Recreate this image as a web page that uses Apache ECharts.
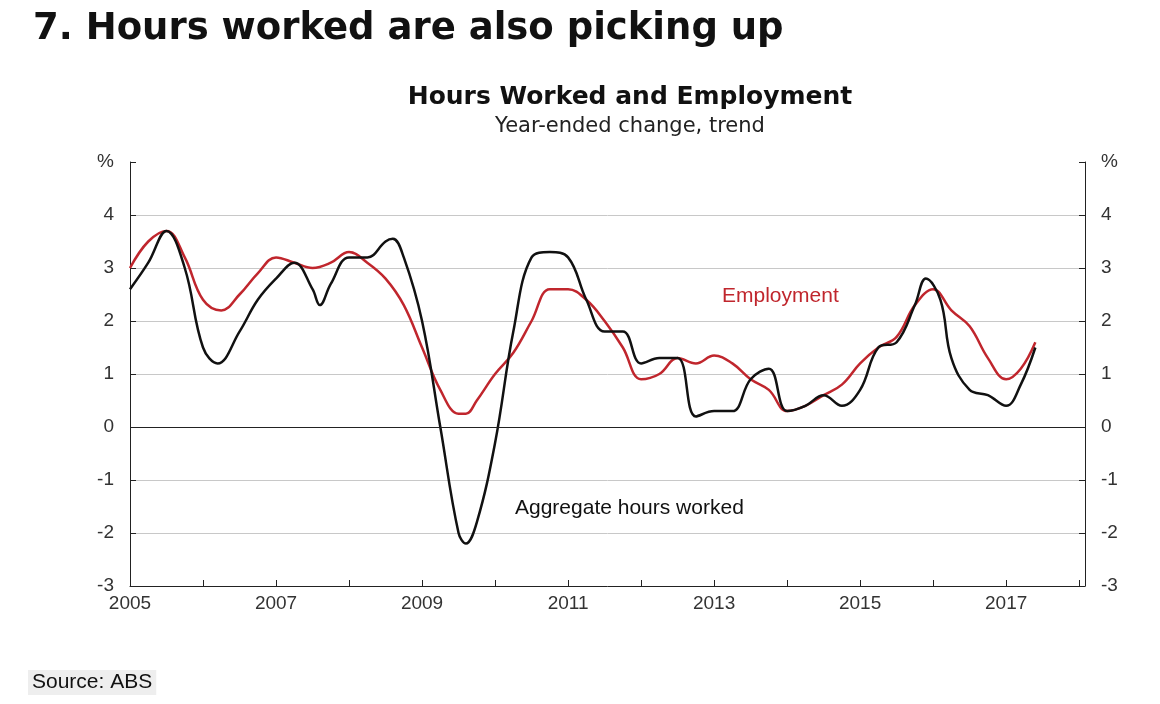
<!DOCTYPE html>
<html>
<head>
<meta charset="utf-8">
<script src="https://cdn.jsdelivr.net/npm/echarts@6/dist/echarts.min.js"></script>
<style>html,body{margin:0;background:#fff}#dataView{width:1160px;height:704px}</style>
</head>
<body>
<div id="dataView"></div>
<script>
// years and year-ended change (%)
var hoursYears = [2005.0,2005.25,2005.5,2005.75,2006.0,2006.2,2006.5,2006.75,2007.0,2007.25,2007.5,2007.6,2007.75,2008.0,2008.25,2008.5,2008.6,2008.75,2009.0,2009.25,2009.5,2009.6,2009.75,2010.0,2010.25,2010.5,2010.75,2011.0,2011.25,2011.5,2011.75,2012.0,2012.25,2012.5,2012.75,2013.0,2013.25,2013.5,2013.75,2014.0,2014.25,2014.5,2014.75,2015.0,2015.25,2015.5,2015.75,2015.9,2016.1,2016.25,2016.5,2016.75,2017.0,2017.2,2017.4];
var hoursValues = [2.6,3.1,3.7,3.0,1.5,1.2,1.8,2.4,2.8,3.1,2.6,2.3,2.7,3.2,3.2,3.5,3.55,3.2,2.0,0.0,-2.0,-2.2,-1.8,-0.3,1.8,3.2,3.3,3.2,2.4,1.8,1.8,1.2,1.3,1.3,0.2,0.3,0.3,0.9,1.1,0.3,0.4,0.6,0.4,0.7,1.5,1.6,2.3,2.8,2.4,1.3,0.7,0.6,0.4,0.8,1.5];
var empYears = [2005.0,2005.25,2005.5,2005.75,2006.0,2006.25,2006.5,2006.75,2007.0,2007.25,2007.5,2007.75,2008.0,2008.25,2008.5,2008.75,2009.0,2009.25,2009.5,2009.6,2009.75,2010.0,2010.25,2010.5,2010.75,2011.0,2011.25,2011.5,2011.75,2012.0,2012.25,2012.5,2012.75,2013.0,2013.25,2013.5,2013.75,2014.0,2014.25,2014.5,2014.75,2015.0,2015.25,2015.5,2015.75,2016.0,2016.25,2016.5,2016.75,2017.0,2017.2,2017.4];
var empValues = [3.0,3.5,3.7,3.2,2.4,2.2,2.5,2.9,3.2,3.1,3.0,3.1,3.3,3.1,2.8,2.3,1.5,0.7,0.25,0.25,0.5,1.0,1.4,2.0,2.6,2.6,2.4,2.0,1.5,0.9,1.0,1.3,1.2,1.35,1.2,0.9,0.7,0.3,0.4,0.6,0.8,1.2,1.5,1.7,2.3,2.6,2.2,1.9,1.3,0.9,1.1,1.6];

var BASE = 2005;
function pairs(xs, ys){
	return xs.map(function(x, i){ return [x - BASE, ys[i]]; });
}

var chart = echarts.init(document.getElementById('dataView'));
var grid = '#c8c8c8';
var yAxisCommon = {
	type: 'value', min: -3, max: 5, interval: 1,
	axisLine: {show: true, lineStyle: {color: '#222'}},
	axisTick: {show: true, inside: true, length: 6, lineStyle: {color: '#222'}},
	axisLabel: {fontSize: 19, color: '#333', fontFamily: 'Liberation Sans', margin: 16,
		formatter: function(v){ return v === 5 ? '%' : v; }},
	splitLine: {show: false}
};
var option = {
	animation: false,
	title: [
		{text: '7. Hours worked are also picking up', left: 28, top: 6,
			textStyle: {fontSize: 37, fontWeight: 'bold', color: '#111', fontFamily: 'DejaVu Sans'}},
		{text: 'Hours Worked and Employment', left: 625, top: 80, textAlign: 'center',
			textStyle: {fontSize: 25, fontWeight: 'bold', color: '#111', fontFamily: 'DejaVu Sans'},
			subtext: 'Year-ended change, trend', itemGap: 6,
			subtextStyle: {fontSize: 21, color: '#222', fontFamily: 'DejaVu Sans'}},
		{text: 'Source: ABS', left: 28, top: 670, backgroundColor: '#eeeeee', padding: [2, 4],
			textStyle: {fontSize: 21, fontWeight: 'normal', color: '#111', fontFamily: 'Liberation Sans'}}
	],
	grid: {left: 130, right: 75, top: 162, bottom: 118},
	xAxis: {
		type: 'value', min: 0, max: 13.08, interval: 2,
		axisLine: {onZero: false, lineStyle: {color: '#222'}},
		axisTick: {show: true, inside: true, length: 6, lineStyle: {color: '#222'}},
		minorTick: {show: true, splitNumber: 2, length: 6, lineStyle: {color: '#222'}},
		axisLabel: {fontSize: 19, color: '#333', fontFamily: 'Liberation Sans',
			formatter: function(v){ return v > 12.5 ? '' : (BASE + v); }},
		splitLine: {show: false}
	},
	yAxis: [
		Object.assign({}, yAxisCommon, {position: 'left'}),
		Object.assign({}, yAxisCommon, {position: 'right',
			splitLine: {show: true, lineStyle: {color: [grid, grid, grid, grid, grid, grid, grid, grid, 'rgba(0,0,0,0)']}}})
	],
	series: [
		{type: 'line', data: pairs(empYears, empValues), smooth: 0.4, showSymbol: false,
			lineStyle: {color: '#c0262d', width: 2.5}, z: 2},
		{type: 'line', data: pairs(hoursYears, hoursValues), smooth: 0.4, showSymbol: false,
			lineStyle: {color: '#111', width: 2.5}, z: 3,
			markLine: {silent: true, symbol: 'none', label: {show: false},
				lineStyle: {color: '#222', type: 'solid', width: 1.2}, data: [{yAxis: 0}]}}
	],
	graphic: [
		{type: 'text', left: 722, top: 286, style: {text: 'Employment', fill: '#c0262d', fontSize: 21, fontFamily: 'Liberation Sans'}},
		{type: 'text', left: 515, top: 498, style: {text: 'Aggregate hours worked', fill: '#111', fontSize: 21, fontFamily: 'Liberation Sans'}}
	]
};
chart.setOption(option);
</script>
</body>
</html>
